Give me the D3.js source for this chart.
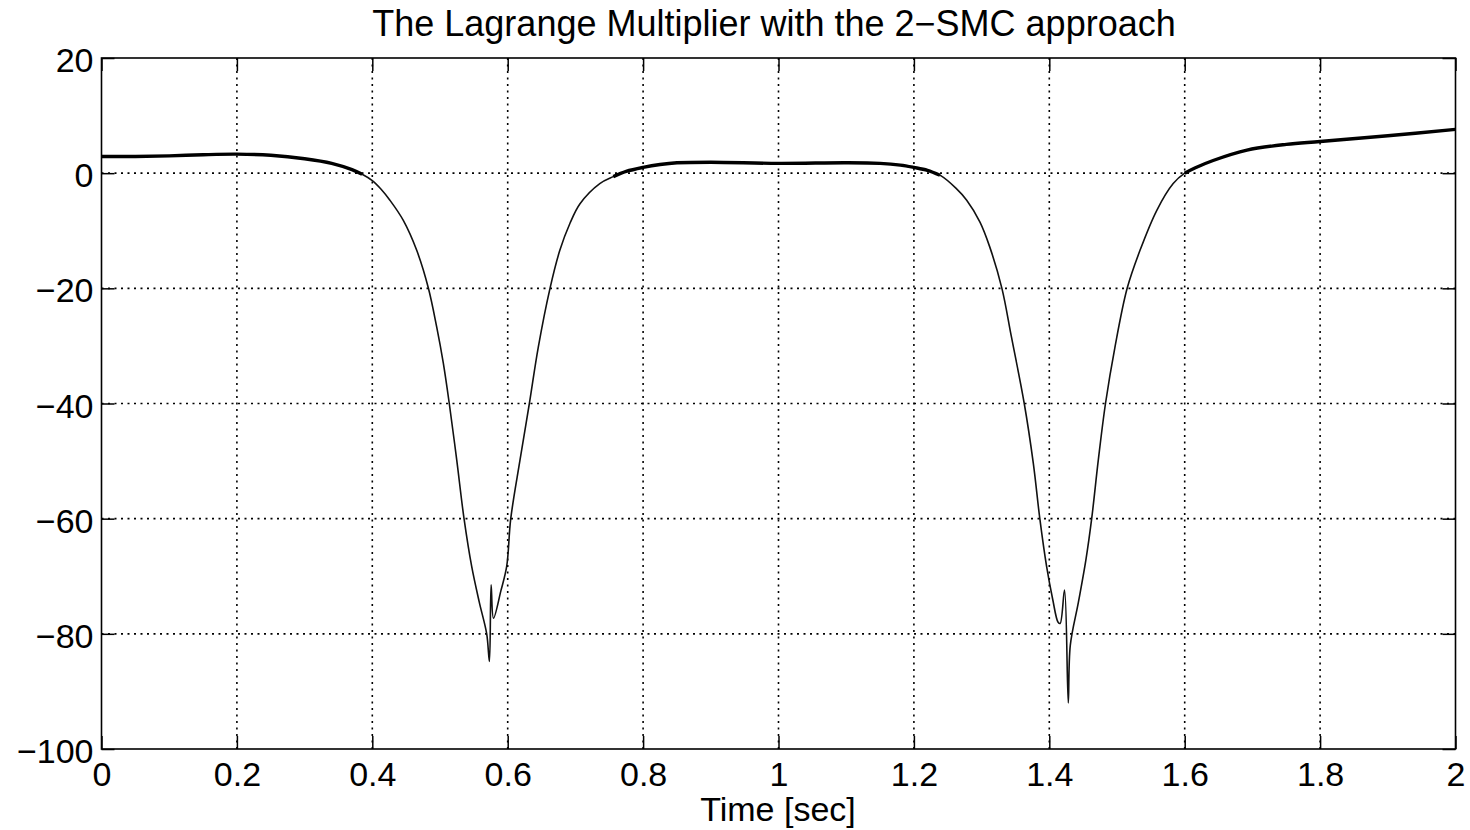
<!DOCTYPE html>
<html>
<head>
<meta charset="utf-8">
<script src="https://cdn.jsdelivr.net/npm/d3@7"></script>
<style>
  body { margin: 0; background: #fff; }
  svg text { font-family: "Liberation Sans", Arial, Helvetica, sans-serif; fill: #000; }
</style>
</head>
<body>
<div id="chart"></div>
<script>
// values
const time = [0, 0.05, 0.10, 0.15, 0.20, 0.25, 0.30, 0.34, 0.37, 0.385, 0.40, 0.413, 0.426, 0.4458, 0.4656,
  0.4827, 0.4951, 0.5049, 0.5137, 0.5247, 0.5355, 0.5468, 0.558, 0.569, 0.573, 0.5755, 0.579, 0.59, 0.5985,
  0.6045, 0.6182, 0.632, 0.6452, 0.6625, 0.677, 0.692, 0.7068, 0.736, 0.756, 0.775, 0.80, 0.825, 0.85, 0.90,
  1.0, 1.1, 1.15, 1.18, 1.20, 1.22, 1.2385, 1.262, 1.278, 1.2976, 1.312, 1.330, 1.344, 1.363, 1.3764, 1.386,
  1.396, 1.405, 1.413, 1.416, 1.4225, 1.428, 1.431, 1.443, 1.454, 1.4626, 1.4724, 1.483, 1.497, 1.515, 1.534,
  1.559, 1.583, 1.600, 1.615, 1.642, 1.692, 1.75, 1.80, 1.90, 2.0];
const lambda = [2.9, 2.9, 3.0, 3.2, 3.3, 3.1, 2.5, 1.7, 0.6, -0.2, -1.3, -2.8, -4.7, -8.2, -13.4,
  -19.9, -26.7, -33.0, -40, -49.8, -60, -68.3, -74.5, -80, -84.8, -71.5, -77.3, -72.5, -68.3,
  -60, -49.8, -40, -30.2, -20, -13.4, -8.7, -5.3, -1.8, -0.6, 0.3, 1.0, 1.5, 1.8, 1.9,
  1.7, 1.8, 1.7, 1.4, 1.0, 0.5, -0.35, -2.6, -4.7, -8.5, -12.8, -20, -28.4, -40, -50.4, -60,
  -68.3, -74, -78, -78.2, -72.4, -92, -82, -74.5, -67.2, -60, -49.8, -40, -30.2, -20, -13.4,
  -6.4, -1.8, 0, 0.9, 2.2, 4.0, 5.0, 5.5, 6.5, 7.6];
const xTicks = [0, 0.2, 0.4, 0.6, 0.8, 1, 1.2, 1.4, 1.6, 1.8, 2];
const yTicks = [-100, -80, -60, -40, -20, 0, 20];
const title = "The Lagrange Multiplier with the 2\u2212SMC approach";
const xLabel = "Time [sec]";

const width = 1470;
const height = 830;
const margin = {top: 58, right: 14.5, bottom: 81, left: 101.5};
const innerW = width - margin.left - margin.right;
const innerH = height - margin.top - margin.bottom;

const data = time.map((t, i) => ({t: t, v: lambda[i]}));

const svg = d3.select("#chart")
  .append("svg")
  .attr("width", width)
  .attr("height", height);

const x = d3.scaleLinear().domain([0, 2]).range([margin.left, margin.left + innerW]);
const y = d3.scaleLinear().domain([-100, 20]).range([margin.top + innerH, margin.top]);

// dotted grid
const grid = svg.append("g").attr("stroke", "#000").attr("stroke-width", 1.6).attr("stroke-dasharray", "2,4.5");
grid.selectAll(".gx")
  .data(xTicks.slice(1, -1))
  .enter()
  .append("line")
  .attr("x1", d => x(d)).attr("x2", d => x(d))
  .attr("y1", margin.top).attr("y2", margin.top + innerH);
grid.selectAll(".gy")
  .data(yTicks.slice(1, -1))
  .enter()
  .append("line")
  .attr("y1", d => y(d)).attr("y2", d => y(d))
  .attr("x1", margin.left).attr("x2", margin.left + innerW);

// the curve: thin everywhere, thicker where it chatters on the plateaus
const line = d3.line().x(d => x(d.t)).y(d => y(d.v)).curve(d3.curveCatmullRom.alpha(0.5));

svg.append("path")
  .datum(data)
  .attr("fill", "none")
  .attr("stroke", "#111")
  .attr("stroke-width", 1.6)
  .attr("d", line);

svg.append("path")
  .datum(data)
  .attr("fill", "none")
  .attr("stroke", "#000")
  .attr("stroke-width", 3.4)
  .attr("d", line.defined(d => d.v > -0.8));

// axes with inward ticks, mirrored on top / right
const fmt = d => String(d).replace("-", "\u2212");
const tickLen = 13;

const axisB = svg.append("g")
  .attr("transform", `translate(0,${margin.top + innerH})`)
  .call(d3.axisBottom(x).tickValues(xTicks).tickFormat(fmt).tickSize(-tickLen).tickPadding(13));
const axisT = svg.append("g")
  .attr("transform", `translate(0,${margin.top})`)
  .call(d3.axisTop(x).tickValues(xTicks).tickFormat("").tickSize(-tickLen));
const axisL = svg.append("g")
  .attr("transform", `translate(${margin.left},0)`)
  .call(d3.axisLeft(y).tickValues(yTicks).tickFormat(fmt).tickSize(-tickLen).tickPadding(8));
const axisR = svg.append("g")
  .attr("transform", `translate(${margin.left + innerW},0)`)
  .call(d3.axisRight(y).tickValues(yTicks).tickFormat("").tickSize(-tickLen));

[axisB, axisT, axisL, axisR].forEach(a => {
  a.selectAll(".domain").remove();
  a.selectAll(".tick line").attr("stroke", "#000").attr("stroke-width", 1.5);
  a.selectAll("text").style("font-size", "34px").attr("fill", "#000");
});
axisL.selectAll("text").attr("dy", "0.4em");
axisB.selectAll("text").attr("dy", "0.7em");

svg.append("rect")
  .attr("x", margin.left).attr("y", margin.top)
  .attr("width", innerW).attr("height", innerH)
  .attr("fill", "none")
  .attr("stroke", "#000")
  .attr("stroke-width", 1.6);

svg.append("text")
  .attr("x", 774)
  .attr("y", 36)
  .attr("text-anchor", "middle")
  .style("font-size", "36px")
  .text(title);

svg.append("text")
  .attr("x", 778)
  .attr("y", 821)
  .attr("text-anchor", "middle")
  .style("font-size", "34px")
  .text(xLabel);
</script>
</body>
</html>
